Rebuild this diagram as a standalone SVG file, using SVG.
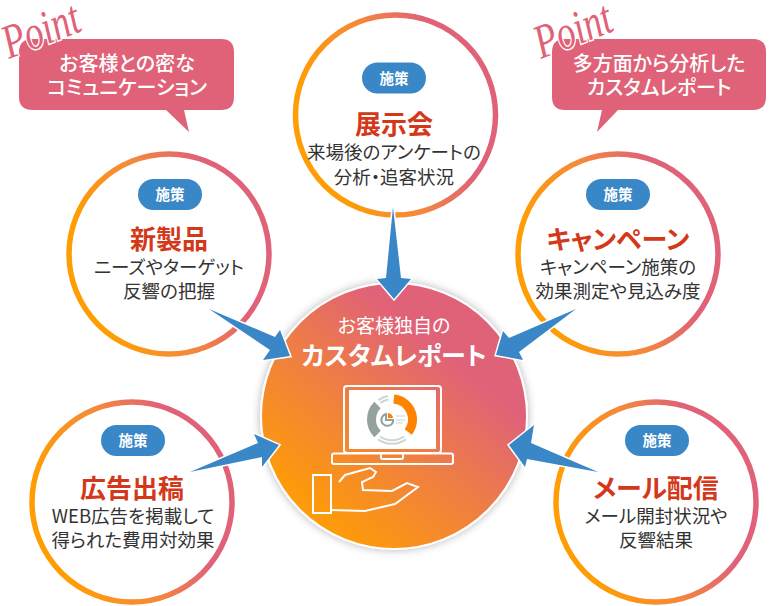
<svg xmlns="http://www.w3.org/2000/svg" width="770" height="606" viewBox="0 0 770 606">
<style>
text{font-family:"Noto Sans CJK JP","Noto Sans",sans-serif;text-anchor:middle;font-feature-settings:"palt"}
.ring{fill:#fff;stroke-width:5.500}
.pill{fill:#3a87c8}
.pt{fill:#fff;font-size:14.500px;font-weight:700}
.ttl{fill:#d4381a;font-size:26px;font-weight:700}
.body{fill:#333;font-size:18.500px}
.bub{fill:#e06278}
.bt{fill:#fff;font-size:20px;font-weight:500}
.point{fill:#e06278;stroke:#fff;stroke-width:3;paint-order:stroke;font-family:"Liberation Serif",serif;font-style:italic;font-size:48px;text-anchor:start}
.ar{fill:#3a87c8;stroke:#fff;stroke-width:3;paint-order:stroke}
.w{fill:none;stroke:#fff;stroke-width:2}
</style>
<defs>
<linearGradient id="g" x1="0.12" y1="0.62" x2="0.88" y2="0.38"><stop offset="0" stop-color="#ff9d05"/><stop offset="0.45" stop-color="#f5893a"/><stop offset="0.85" stop-color="#e06278"/><stop offset="1" stop-color="#e06278"/></linearGradient>
<linearGradient id="c" x1="0.25" y1="0.95" x2="0.8" y2="0.3"><stop offset="0" stop-color="#ff9d05"/><stop offset="0.5" stop-color="#ef8040"/><stop offset="0.95" stop-color="#e06278"/></linearGradient>
<filter id="s" x="-10%" y="-10%" width="120%" height="120%"><feDropShadow dx="0" dy="0" stdDeviation="4" flood-color="#000" flood-opacity="0.3"/></filter>
</defs>
<g id="bubble-left">
<path class="bub" d="M33 39H221Q234 39 234 52V97Q234 110 221 110H184L189 132L166 110H33Q19 110 19 97V52Q19 39 33 39Z"/>
<text class="point" transform="translate(9,59) rotate(-21)" textLength="80" lengthAdjust="spacingAndGlyphs">Point</text>
<text class="bt" x="127" y="71">お客様との密な</text>
<text class="bt" x="127" y="95">コミュニケーション</text>
</g>
<g id="bubble-right">
<path class="bub" d="M565 39H753Q766 39 766 52V97Q766 110 753 110H618L597 132L602 110H565Q552 110 552 97V52Q552 39 565 39Z"/>
<text class="point" transform="translate(541,59) rotate(-21)" textLength="80" lengthAdjust="spacingAndGlyphs">Point</text>
<text class="bt" x="659" y="71">多方面から分析した</text>
<text class="bt" x="659" y="95">カスタムレポート</text>
</g>
<g id="node-top">
<circle class="ring" stroke="url(#g)" cx="395.500" cy="115" r="100"/>
<rect class="pill" x="362" y="62.500" width="64" height="31" rx="15.500"/>
<text class="pt" x="394" y="84">施策</text>
<text class="ttl" x="394" y="134">展示会</text>
<text class="body" x="394" y="159">来場後のアンケートの</text>
<text class="body" x="394" y="184">分析・追客状況</text>
</g>
<g id="node-left">
<circle class="ring" stroke="url(#g)" cx="169" cy="254" r="100"/>
<rect class="pill" x="138" y="179" width="64" height="31" rx="15.500"/>
<text class="pt" x="170" y="200">施策</text>
<text class="ttl" x="169" y="249">新製品</text>
<text class="body" x="169" y="274">ニーズやターゲット</text>
<text class="body" x="169" y="298">反響の把握</text>
</g>
<g id="node-right">
<circle class="ring" stroke="url(#g)" cx="618" cy="254" r="100"/>
<rect class="pill" x="586" y="179" width="64" height="31" rx="15.500"/>
<text class="pt" x="618" y="200">施策</text>
<text class="ttl" x="618" y="249">キャンペーン</text>
<text class="body" x="618" y="274">キャンペーン施策の</text>
<text class="body" x="618" y="298">効果測定や見込み度</text>
</g>
<g id="node-bl">
<circle class="ring" stroke="url(#g)" cx="132" cy="502" r="100"/>
<rect class="pill" x="101" y="425" width="64" height="31" rx="15.500"/>
<text class="pt" x="133" y="446">施策</text>
<text class="ttl" x="132" y="498">広告出稿</text>
<text class="body" x="133" y="523">WEB広告を掲載して</text>
<text class="body" x="133" y="547">得られた費用対効果</text>
</g>
<g id="node-br">
<circle class="ring" stroke="url(#g)" cx="656" cy="502" r="100"/>
<rect class="pill" x="625" y="425" width="64" height="31" rx="15.500"/>
<text class="pt" x="657" y="446">施策</text>
<text class="ttl" x="656" y="498">メール配信</text>
<text class="body" x="656" y="523">メール開封状況や</text>
<text class="body" x="656" y="547">反響結果</text>
</g>
<g id="node-center">
<circle cx="394" cy="416" r="133" fill="url(#c)" stroke="#fff" stroke-width="2" filter="url(#s)"/>
<text x="394" y="333" fill="#fff" font-size="19">お客様独自の</text>
<text x="394" y="365" fill="#fff" font-size="25" font-weight="700">カスタムレポート</text>
<rect class="w" x="344" y="386" width="97" height="67" rx="3"/>
<rect x="349" y="390" width="87" height="59" fill="#fff"/>
<g fill="none">
<path d="M393.800 399.100A20.500 20.500 0 0 1 408.200 432.100" stroke="#ff8200" stroke-width="9"/>
<path d="M377.500 434A20.500 20.500 0 0 1 377.500 405" stroke="#93a19f" stroke-width="9"/>
<path d="M379.100 437.900A22.500 22.500 0 0 0 404.900 437.900" stroke="#cdd6d3" stroke-width="5.500"/>
<path d="M379.100 437.900A22.500 22.500 0 0 0 404.900 437.900" stroke="#fff" stroke-width="1.500"/>
<path d="M379.400 401.500A22 22 0 0 1 388.200 397.800" stroke="#cdd6d3" stroke-width="5.500"/>
<path d="M379.400 401.500A22 22 0 0 1 388.200 397.800" stroke="#fff" stroke-width="1.500"/>
<path d="M393 422A6 6 0 1 1 386 414V420H393Z" stroke="#93a19f" stroke-width="2"/>
<path d="M396 416H405M396 420H405M396 423H403" stroke="#cdd6d3" stroke-width="1"/>
</g>
<path d="M388 413A6 6 0 0 1 393 418H388Z" fill="#ff8200"/>
<path class="w" d="M334 453.500H451Q453 453.500 453 455.500V462Q453 464 451 464H334Q332 464 332 462V455.500Q332 453.500 334 453.500ZM381 454V457.500Q381 459 383 459H401Q403 459 403 457.500V454"/>
<rect class="w" x="313" y="475" width="18" height="38"/>
<path class="w" d="M339 482L345 475L370 468L376 472L373 477L362 482L363 490L392 491L407 483L418 487L395 504L365 511L331 510"/>
</g>
<g id="connectors">
<path class="ar" d="M393 207 401 278 411 279 394 299 377 279 386 278Z"/>
<path class="ar" d="M209 309 275 337 280 330 290 356 263 360 270 350Z"/>
<path class="ar" d="M190 472 258 443 254 434 279 445 262 467 262 457Z"/>
<path class="ar" d="M576 309 509 338 503 331 496 355 523 360 519 352Z"/>
<path class="ar" d="M598 472 531 443 534 425 509 445 525 467 527 459Z"/>
</g>
</svg>
